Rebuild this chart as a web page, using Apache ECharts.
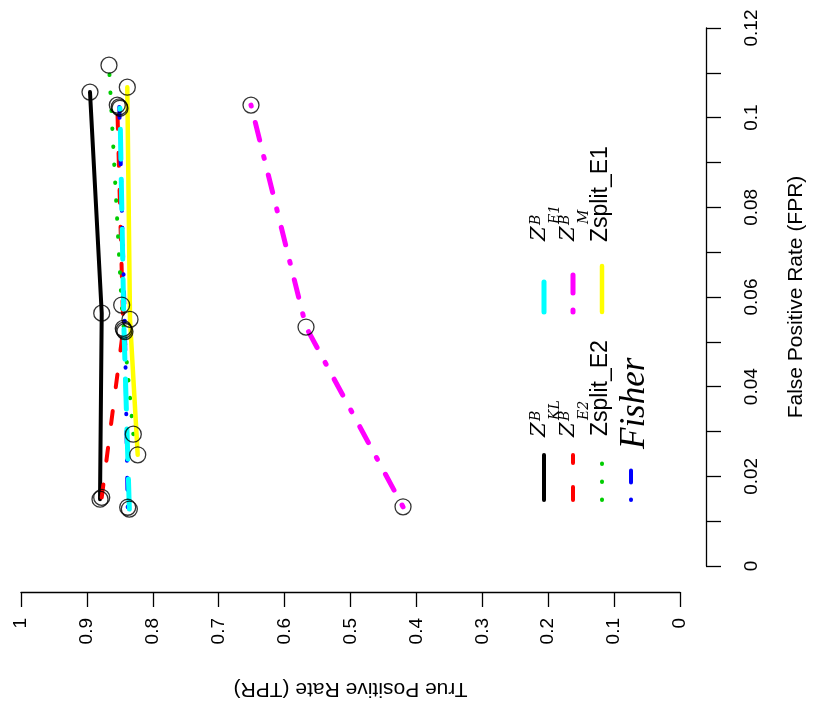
<!DOCTYPE html>
<html><head><meta charset="utf-8">
<script src="https://cdn.jsdelivr.net/npm/echarts@6/dist/echarts.min.js"></script>
<style>html,body{margin:0;padding:0;background:#fff}#c{width:825px;height:719px}</style>
</head><body><div id="c"></div>
<script>
// Each point: [TPR, FPR]
const zbKL      = [[0.8801,0.0149],[0.8775,0.0564],[0.8953,0.1057]];
const zbE2      = [[0.8775,0.0153],[0.8448,0.0530],[0.8539,0.1028]];
const zsplitE2  = [[0.8296,0.0294],[0.8472,0.0582],[0.8665,0.1117]];
const fisher    = [[0.8381,0.0131],[0.8422,0.0523],[0.8508,0.1024]];
const zbE1      = [[0.8356,0.0127],[0.8437,0.0526],[0.8498,0.1021]];
const zbM       = [[0.4203,0.0132],[0.5675,0.0533],[0.6510,0.1028]];
const zsplitE1  = [[0.8229,0.0248],[0.8346,0.0550],[0.8387,0.1068]];

const SANS = '"Liberation Sans", Arial, sans-serif';
const MATH = '"DejaVu Serif", serif';
const SERIF = '"Liberation Serif", "DejaVu Serif", serif';

const styles = {
  kl:  {color:'#000000', width:4,   dash:null},
  e2:  {color:'#ff0000', width:4,   dash:[13,24]},
  sp2: {color:'#00cd00', width:4,   dash:[0.5,17.5]},
  fi:  {color:'#0000ff', width:4,   dash:[0.5,17,12,17]},
  e1:  {color:'#00ffff', width:5,   dash:[30,20]},
  m:   {color:'#ff00ff', width:5,   dash:[2,17,18,17]},
  sp1: {color:'#ffff00', width:4.5, dash:null}
};

function lineSeries(name, data, st) {
  return {
    type:'line', name, data, showSymbol:false, symbol:'none', silent:true,
    lineStyle:{color:st.color, width:st.width, type:st.dash || 'solid', cap:'round', join:'round'}
  };
}

const allSeries = [
  ['ZB_KL', zbKL, styles.kl],
  ['ZB_E2', zbE2, styles.e2],
  ['Zsplit_E2', zsplitE2, styles.sp2],
  ['Fisher', fisher, styles.fi],
  ['ZB_E1', zbE1, styles.e1],
  ['ZB_M', zbM, styles.m],
  ['Zsplit_E1', zsplitE1, styles.sp1]
];

const series = allSeries.map(s => lineSeries(s[0], s[1], s[2]));
series.push({
  type:'scatter', name:'points', silent:true, z:10,
  data: allSeries.reduce((a, s) => a.concat(s[1]), []),
  symbol:'circle', symbolSize:16,
  itemStyle:{color:'rgba(0,0,0,0)', borderColor:'#000', borderWidth:1.3}
});

// ---- legend (rotated, drawn as graphics) ----
const graphic = [];
function legLine(x, y1, y2, st) {
  graphic.push({type:'line', silent:true, shape:{x1:x, y1:y1, x2:x, y2:y2},
    style:{stroke:st.color, lineWidth:st.width, lineDash:st.dash || null, lineCap:'round'}});
}
function txt(x, y, text, font) {
  graphic.push({type:'text', silent:true, x:x, y:y, rotation:Math.PI/2,
    style:{text:text, font:font, fill:'#000', align:'left', textAlign:'left',
           verticalAlign:'middle', textVerticalAlign:'middle'}});
}
function mathLabel(x, y0, sup, sub) {
  txt(x, y0, 'Z', 'italic 21px ' + MATH);
  txt(x - 4, y0 - 16, sup, 'italic 14px ' + MATH);
  txt(x + 15, y0 - 17, sub, 'italic 14px ' + MATH);
}
// column 1
legLine(544, 500, 455, styles.kl);  mathLabel(540, 437, 'B', 'KL');
legLine(573, 500, 455, styles.e2);  mathLabel(569, 437, 'B', 'E2');
legLine(602, 500, 455, styles.sp2); txt(601, 436, 'Zsplit_E2', '23px ' + SANS);
legLine(631, 500, 455, styles.fi);  txt(635, 449, 'Fisher', 'italic 35px ' + SERIF);
// column 2
legLine(544, 312, 266, styles.e1);  mathLabel(540, 241, 'B', 'E1');
legLine(573, 312, 266, styles.m);   mathLabel(569, 241, 'B', 'M');
legLine(602, 312, 266, styles.sp1); txt(601, 242, 'Zsplit_E1', '23px ' + SANS);

const chart = echarts.init(document.getElementById('c'), null, {renderer:'canvas'});
chart.setOption({
  animation:false,
  backgroundColor:'#ffffff',
  grid:{left:21, right:145, top:28, bottom:153, outerBoundsMode:'none'},
  xAxis:{
    type:'value', min:0, max:1, interval:0.1, inverse:true, position:'bottom', offset:26,
    axisLine:{show:true, onZero:false, lineStyle:{color:'#000', width:1.3}},
    axisTick:{show:true, length:15, lineStyle:{color:'#000', width:1.3}},
    axisLabel:{rotate:90, margin:26, fontSize:19, fontFamily:SANS, color:'#000'},
    splitLine:{show:false},
    name:'True Positive Rate (TPR)', nameLocation:'middle', nameRotate:180, nameGap:86,
    nameTextStyle:{fontSize:21, fontFamily:SANS, color:'#000'}
  },
  yAxis:{
    type:'value', min:0, max:0.12, interval:0.02, position:'right', offset:26,
    axisLine:{show:true, onZero:false, lineStyle:{color:'#000', width:1.3}},
    axisTick:{show:true, length:15, lineStyle:{color:'#000', width:1.3}},
    minorTick:{show:true, splitNumber:2, length:15, lineStyle:{color:'#000', width:1.3}},
    axisLabel:{rotate:90, margin:36, fontSize:19, fontFamily:SANS, color:'#000'},
    splitLine:{show:false}, minorSplitLine:{show:false},
    name:'False Positive Rate (FPR)', nameLocation:'middle', nameRotate:90, nameGap:80,
    nameTextStyle:{fontSize:21, fontFamily:SANS, color:'#000'}
  },
  graphic: graphic,
  series: series
});
</script>
</body></html>
